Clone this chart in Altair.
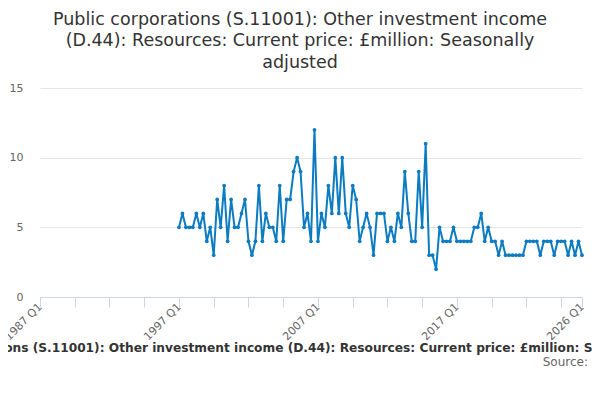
import altair as alt
import pandas as pd

series_name = (
    "Public corporations (S.11001): Other investment income (D.44): "
    "Resources: Current price: £million: Seasonally adjusted"
)
title_lines = [
    "Public corporations (S.11001): Other investment income",
    "(D.44): Resources: Current price: £million: Seasonally",
    "adjusted",
]

# quarters counted from 1987 Q1 (axis start); the series starts at 1997 Q1
axis_start_year = 1987
series_start = 40
values = [
    5, 6, 5, 5, 5, 6, 5, 6, 4, 5, 3, 7, 5, 8, 4, 7, 5, 5, 6, 7,
    4, 3, 4, 8, 4, 6, 5, 5, 4, 8, 4, 7, 7, 9, 10, 9, 5, 6, 4, 12,
    4, 6, 5, 8, 6, 10, 6, 10, 6, 5, 8, 7, 4, 5, 6, 5, 3, 6, 6, 6,
    4, 5, 4, 6, 5, 9, 6, 4, 4, 9, 5, 11, 3, 3, 2, 5, 4, 4, 4, 5,
    4, 4, 4, 4, 4, 5, 5, 6, 4, 5, 4, 4, 3, 4, 3, 3, 3, 3, 3, 3,
    4, 4, 4, 4, 3, 4, 4, 4, 3, 4, 4, 4, 3, 4, 3, 4, 3,
]
x_ticks = list(range(0, 151, 10)) + [156]
y_ticks = [0, 5, 10, 15]

idx = [series_start + i for i in range(len(values))]
df = pd.DataFrame({
    "q": idx,
    "period": [f"{axis_start_year + q // 4} Q{q % 4 + 1}" for q in idx],
    "value": values,
})

label_expr = (
    "(datum.value % 40 == 0 || datum.value == 156) ? "
    f"({axis_start_year} + floor(datum.value / 4)) + ' Q' + (datum.value % 4 + 1) : ''"
)

line = alt.Chart(df).mark_line(
    color="#0b7bc2", strokeWidth=2,
    point=alt.OverlayMarkDef(color="#0b7bc2", size=14, opacity=1),
).encode(
    x=alt.X("q:Q", scale=alt.Scale(domain=[0, 156], nice=False, zero=False),
            axis=alt.Axis(
                values=x_ticks, labelExpr=label_expr, labelAngle=-45,
                labelAlign="right", labelBaseline="middle", labelPadding=-2,
                labelColor="#666666", labelFontSize=11, labelFont="DejaVu Sans",
                domainColor="#ccd6eb", tickColor="#ccd6eb", tickSize=10,
                grid=False, title=series_name, titleFont="DejaVu Sans",
                titleFontSize=12.2, titleFontWeight="bold", titleColor="#333333",
                titleX=268, titleY=50, titleBaseline="middle", titleAlign="center",
            )),
    y=alt.Y("value:Q", scale=alt.Scale(domain=[0, 15], nice=False),
            axis=alt.Axis(
                values=y_ticks, domain=False, ticks=False, labelPadding=17,
                labelColor="#666666", labelFontSize=11, labelFont="DejaVu Sans",
                gridColor="#e6e6e6", title=None,
            )),
    tooltip=["period:N", "value:Q"],
)

source = alt.Chart(pd.DataFrame({"t": ["Source:"]})).mark_text(
    align="right", baseline="middle", font="DejaVu Sans", fontSize=12, color="#666666",
).encode(text="t:N", x=alt.value(548), y=alt.value(274))

chart = (line + source).properties(
    width=542, height=209,
    autosize=alt.AutoSizeParams(type="none"),
    padding={"left": 32, "top": 80, "right": 10, "bottom": 80},
    title=alt.TitleParams(
        text=title_lines, anchor="middle", dx=-11, offset=11,
        font="DejaVu Sans", fontSize=17.5, fontWeight="normal",
        color="#333333", lineHeight=21.5,
    ),
).configure_view(stroke=None)

chart.save("out.html", embed_options={"renderer": "svg", "actions": False})
